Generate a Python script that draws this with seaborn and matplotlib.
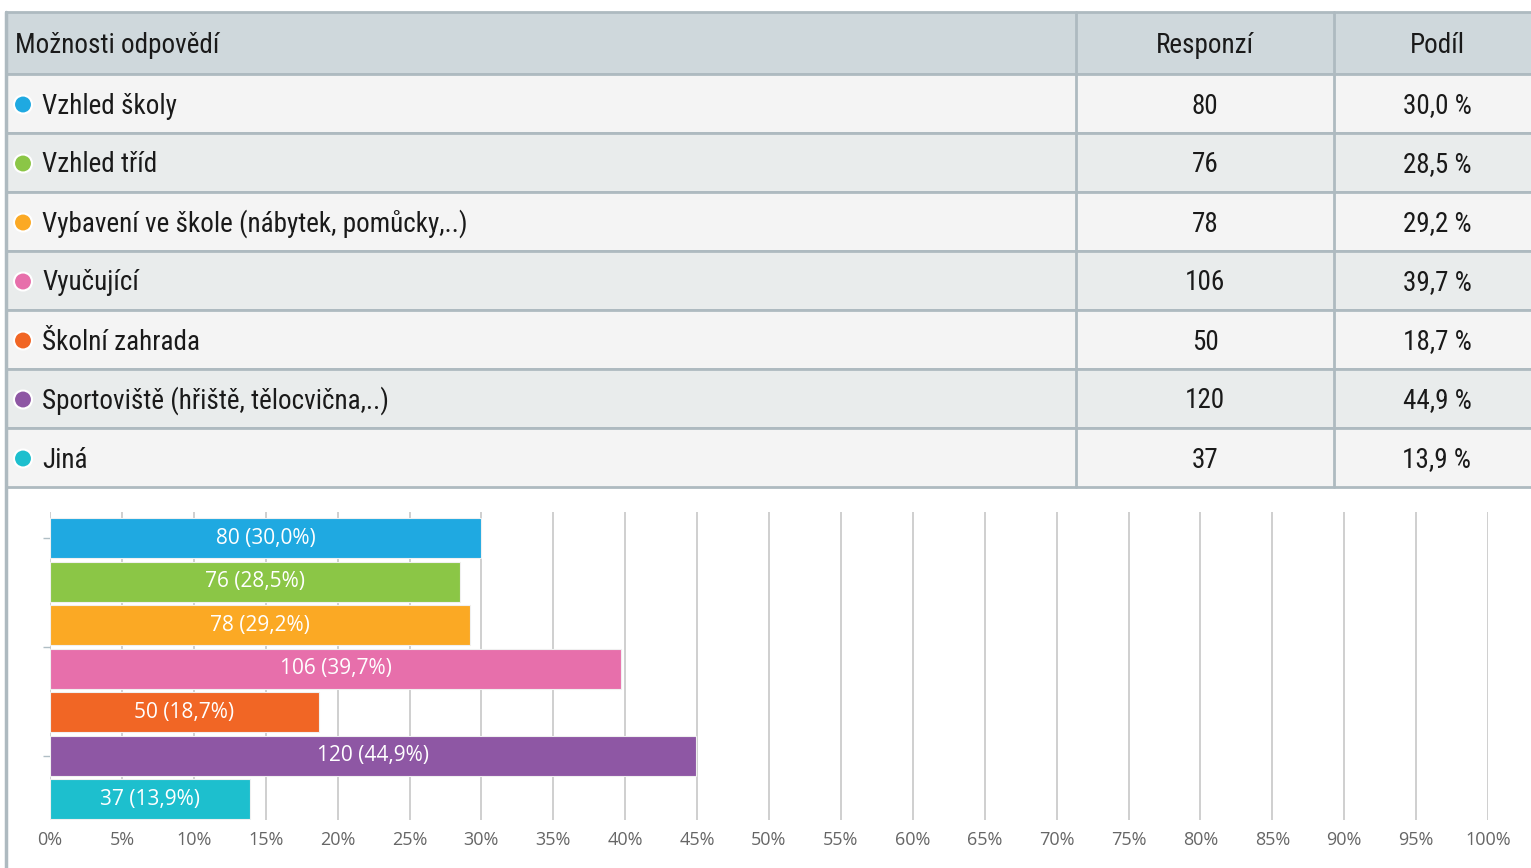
import numpy as np
import pandas as pd
import matplotlib
matplotlib.use("Agg")
import matplotlib.pyplot as plt
from matplotlib import font_manager
from matplotlib.patches import Rectangle, Circle
import seaborn as sns

# -----------------------------
# DATA
# -----------------------------
options = [
    "Vzhled školy",
    "Vzhled tříd",
    "Vybavení ve škole (nábytek, pomůcky,..)",
    "Vyučující",
    "Školní zahrada",
    "Sportoviště (hřiště, tělocvična,..)",
    "Jiná",
]
responses = [80, 76, 78, 106, 50, 120, 37]
shares = [30.0, 28.5, 29.2, 39.7, 18.7, 44.9, 13.9]
colors = ["#1FA9E1", "#8BC646", "#FBA924", "#E76FAB", "#F16625", "#8E57A4", "#1DBFCE"]
headers = ["Možnosti odpovědí", "Responzí", "Podíl"]
xticks = list(range(0, 101, 5))

df = pd.DataFrame({"option": options, "responses": responses, "share": shares})

sns.set_theme(style="white")
chart_font = ["Open Sans", "DejaVu Sans"]
plt.rcParams["font.family"] = chart_font

# pick the narrowest installed family for the table
fonts = font_manager.fontManager.ttflist
names = {f.name for f in fonts}
table_kw = None
for cand in ["Liberation Sans Narrow", "Roboto Condensed", "Open Sans Condensed",
             "Noto Sans Condensed", "Arial Narrow"]:
    if cand in names:
        table_kw = dict(family=[cand, "DejaVu Sans"], fontsize=21)
        break
if table_kw is None:
    cond = [f for f in fonts if str(f.stretch) in ("condensed", "semi-condensed", "75", "87")
            and f.weight in (400, "normal", "regular")]
    if cond:
        table_kw = dict(family=[cond[0].name, "DejaVu Sans"], fontstretch=cond[0].stretch,
                        fontsize=19)
    else:
        table_kw = dict(family=["Roboto", "DejaVu Sans"], fontsize=18)
table_kw["fontsize"] *= 0.93

W, H = 1531, 868
fig = plt.figure(figsize=(W / 100, H / 100), dpi=100)
fig.patch.set_facecolor("white")

# -----------------------------
# TABLE (pixel-space axes)
# -----------------------------
tab = fig.add_axes([0, 0, 1, 1])
tab.set_xlim(0, W)
tab.set_ylim(H, 0)
tab.axis("off")

border = "#AEBAC0"
ink = "#1a1a1a"
left, right = 6, 1545
col1, col2 = 1076, 1334
top, head_h, row_h = 12, 62, 59
dy = 2.5  # text sits a bit below the row middle

tab.add_patch(Rectangle((left, top), right - left, head_h, facecolor="#CFD8DC",
                        edgecolor=border, lw=2))
tab.text(15, top + head_h / 2 + dy, headers[0], ha="left", va="center", color=ink,
         **table_kw)
tab.text((col1 + col2) / 2, top + head_h / 2 + dy, headers[1], ha="center",
         va="center", color=ink, **table_kw)
tab.text(1437, top + head_h / 2 + dy, headers[2], ha="center", va="center", color=ink,
         **table_kw)

for i, (opt, n, s, c) in enumerate(zip(options, responses, shares, colors)):
    y0 = top + head_h + i * row_h
    bg = "#F4F4F4" if i % 2 == 0 else "#E9ECEC"
    tab.add_patch(Rectangle((left, y0), right - left, row_h, facecolor=bg,
                            edgecolor=border, lw=2))
    yc = y0 + row_h / 2
    tab.add_patch(Circle((23, yc + 1), 9, facecolor=c, edgecolor="white", lw=1.5))
    tab.text(42, yc + dy, opt, ha="left", va="center", color=ink, **table_kw)
    tab.text((col1 + col2) / 2, yc + dy, str(n), ha="center", va="center", color=ink,
             **table_kw)
    tab.text(1437, yc + dy, f"{s:.1f} %".replace(".", ","), ha="center", va="center",
             color=ink, **table_kw)

table_bottom = top + head_h + len(options) * row_h
for xc in (col1, col2):
    tab.plot([xc, xc], [top, table_bottom], color=border, lw=2)
tab.plot([left, left], [top, H], color=border, lw=2.5)

# -----------------------------
# BAR CHART
# -----------------------------
ax_l, ax_r, ax_t, ax_b = 50, 1488, 512, 820
ax = fig.add_axes([ax_l / W, 1 - ax_b / H, (ax_r - ax_l) / W, (ax_b - ax_t) / H])
ax.set_facecolor("none")

sns.barplot(data=df, x="share", y="option", hue="option", palette=colors,
            saturation=1, orient="h", width=0.92, legend=False, ax=ax, zorder=3,
            edgecolor="#f0f0f0", linewidth=0.8)

for i, (n, s) in enumerate(zip(responses, shares)):
    ax.text(s / 2, i, f"{n} ({s:.1f}%)".replace(".", ","), ha="center", va="center",
            color="white", fontsize=15, zorder=4)

ax.set_xlim(0, 100)
ax.set_ylim(6.48, -0.6)
ax.set_xticks(xticks)
ax.set_xticklabels([f"{t}%" for t in xticks], color="#666666", fontsize=13)
ax.set_yticks([0, 2.5, 5])
ax.set_yticklabels([])
ax.tick_params(axis="y", length=5, color="#B0BEC5", width=1, left=True)
ax.tick_params(axis="x", length=0, pad=8)
ax.grid(axis="x", color="#CCCCCC", lw=1.3, zorder=0)
ax.grid(axis="y", visible=False)
ax.set_xlabel("")
ax.set_ylabel("")
for sp in ax.spines.values():
    sp.set_visible(False)

fig.savefig("out.png", dpi=100, facecolor="white")
